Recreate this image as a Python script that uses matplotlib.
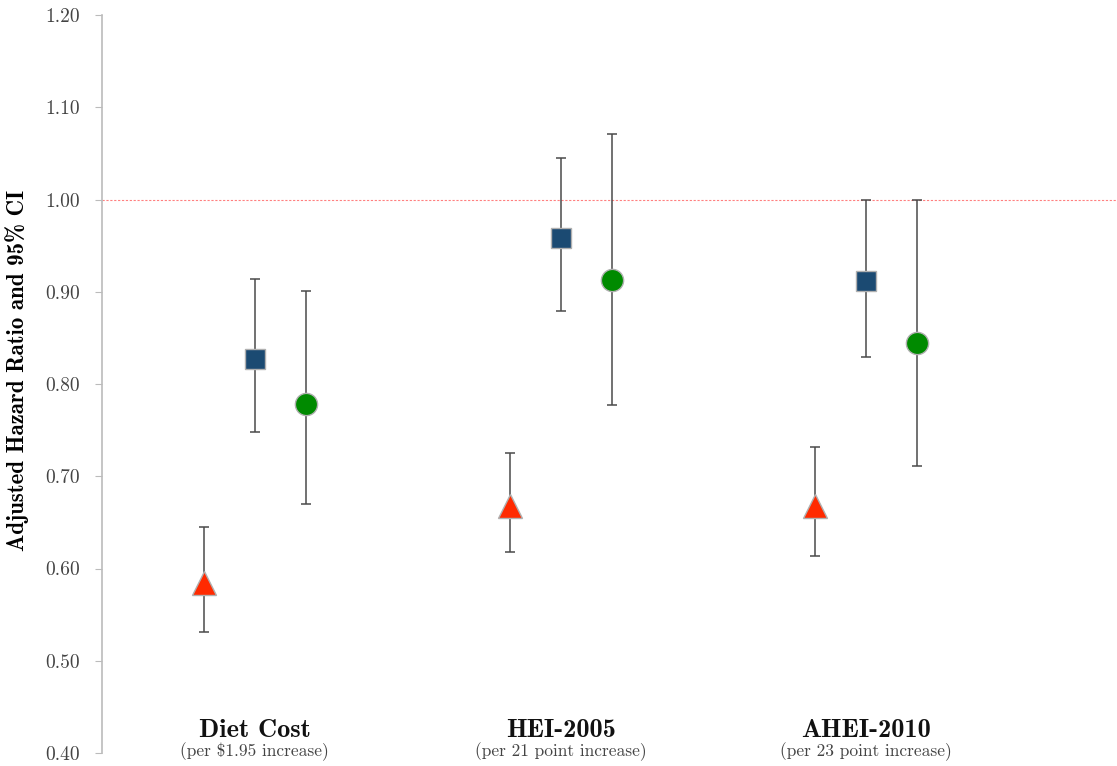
import numpy as np
import matplotlib.pyplot as plt

# Categories and subtitles
categories = ["Diet Cost", "HEI-2005", "AHEI-2010"]
subtitles = ["(per \\$1.95 increase)", "(per 21 point increase)", "(per 23 point increase)"]

# Hazard ratios and 95% CI, one list per marker series
tri_hr = [0.584, 0.668, 0.668]
tri_lo = [0.531, 0.618, 0.614]
tri_hi = [0.645, 0.725, 0.732]

sq_hr = [0.827, 0.958, 0.912]
sq_lo = [0.748, 0.879, 0.829]
sq_hi = [0.914, 1.045, 1.000]

circ_hr = [0.778, 0.913, 0.844]
circ_lo = [0.670, 0.777, 0.711]
circ_hi = [0.901, 1.071, 1.000]

yticks = [0.40, 0.50, 0.60, 0.70, 0.80, 0.90, 1.00, 1.10, 1.20]

plt.rcParams["font.family"] = "cmr10"
plt.rcParams["axes.formatter.use_mathtext"] = True

fig = plt.figure(figsize=(11.17, 7.66), dpi=100)
ax = fig.add_axes([0.0913, 0.017, 0.9087, 0.9633])

x = np.arange(1, len(categories) + 1)
offset = 1 / 6

series = [
    (tri_hr, tri_lo, tri_hi, -offset, "^", "#ff2a00", 17),
    (sq_hr, sq_lo, sq_hi, 0.0, "s", "#1b4a72", 15),
    (circ_hr, circ_lo, circ_hi, offset, "o", "#008a00", 16),
]

ax.axhline(1.0, color="#ff8080", linestyle=(0, (2, 1.5)), linewidth=0.8, zorder=1)

for hr, lo, hi, dx, marker, color, ms in series:
    hr = np.array(hr)
    err = np.vstack([hr - np.array(lo), np.array(hi) - hr])
    ax.errorbar(x + dx, hr, yerr=err, fmt="none", ecolor="#4a4a4a",
                elinewidth=1.1, capsize=3.6, capthick=1.1, zorder=2)
    ax.plot(x + dx, hr, linestyle="none", marker=marker, markersize=ms,
            markerfacecolor=color, markeredgecolor="#b0b0b0",
            markeredgewidth=1.0, zorder=3)

ax.set_xlim(0.5, 3.82)
ax.set_ylim(0.40, 1.20)
ax.set_yticks(yticks)
ax.set_yticklabels([f"{t:.2f}" for t in yticks], fontsize=14, color="#444444")
ax.set_xticks([])

for side in ["top", "right", "bottom"]:
    ax.spines[side].set_visible(False)
ax.spines["left"].set_color("#bbbbbb")
ax.spines["left"].set_linewidth(1.2)
ax.tick_params(axis="y", direction="out", length=5, color="#bbbbbb", pad=11)

ax.set_ylabel("Adjusted Hazard Ratio and 95% CI", fontsize=16.5,
              fontfamily="cmb10")
ax.yaxis.set_label_coords(-0.072, 0.518)

for xi, cat, sub in zip(x, categories, subtitles):
    ax.text(xi, 0.424, cat, ha="center", va="center", fontsize=19,
            fontfamily="cmb10", color="#111111")
    ax.text(xi, 0.4015, sub, ha="center", va="center", fontsize=12.5,
            color="#444444")

fig.savefig("out.png", dpi=100)
